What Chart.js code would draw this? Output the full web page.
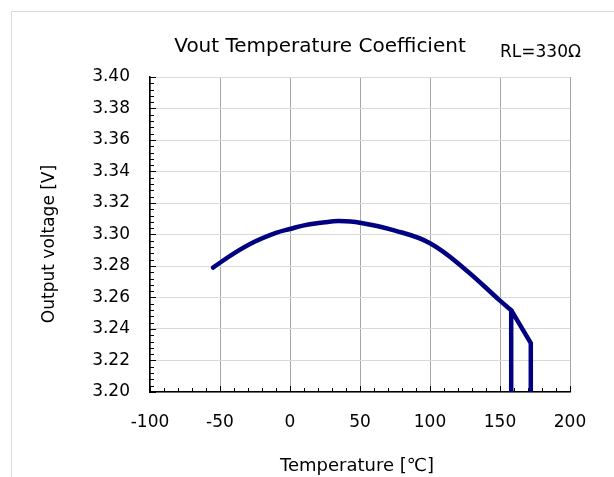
<!DOCTYPE html>
<html>
<head>
<meta charset="utf-8">
<script src="https://cdn.jsdelivr.net/npm/chart.js@4"></script>
<style>
  html, body { margin: 0; padding: 0; background: #fff; }
  #wrap { width: 614px; height: 477px; }
</style>
</head>
<body>
<div id="wrap"><canvas id="chart" width="614" height="477"></canvas></div>
<script>
// values
const temps = [-55, -40, -25, -10, 0, 10, 25, 35, 50, 75, 100, 125, 150, 158];
const vout = [3.279, 3.288, 3.2955, 3.301, 3.3035, 3.3058, 3.3078, 3.3085, 3.3075, 3.3025, 3.2945, 3.278, 3.258, 3.252];
// thermal shutdown / recovery path
const shutTemps = [158, 172, 172, 158, 158];
const shutVout = [3.252, 3.231, 3.0, 3.0, 3.252];

const xTicks = [-100, -50, 0, 50, 100, 150, 200];
const yTicks = [3.2, 3.22, 3.24, 3.26, 3.28, 3.3, 3.32, 3.34, 3.36, 3.38, 3.4];

const FONT = "'DejaVu Sans', Verdana, sans-serif";
const NAVY = "#000080";

const toPoints = (xs, ys) => xs.map((x, i) => ({ x: x, y: ys[i] }));

// minor ticks (inside the plot) + frame + text
const extras = {
  id: "extras",
  beforeDraw(chart) {
    const c = chart.ctx;
    c.save();
    c.strokeStyle = "#d9d9d9";
    c.lineWidth = 1;
    c.strokeRect(11.5, 11.5, 800, 800);
    c.restore();
  },
  afterDraw(chart) {
    const c = chart.ctx;
    const xs = chart.scales.x, ys = chart.scales.y;
    const a = chart.chartArea;
    c.save();
    c.strokeStyle = "#000";
    c.lineWidth = 1;
    c.beginPath();
    for (let v = -100; v <= 200; v += 10) {
      const px = Math.round(xs.getPixelForValue(v)) + 0.5;
      const len = v % 50 === 0 ? 6 : 4;
      c.moveTo(px, a.bottom);
      c.lineTo(px, a.bottom - len);
    }
    for (let i = 0; i <= 50; i++) {
      const v = 3.2 + i * 0.004;
      const py = Math.round(ys.getPixelForValue(v)) + 0.5;
      const len = i % 5 === 0 ? 6 : 4;
      c.moveTo(a.left, py);
      c.lineTo(a.left + len, py);
    }
    c.stroke();

    c.fillStyle = "#000";
    c.textAlign = "center";
    c.textBaseline = "alphabetic";
    c.font = "20px " + FONT;
    c.fillText("Vout Temperature Coefficient", 320, 52);
    c.font = "17px " + FONT;
    c.textAlign = "left";
    c.fillText("RL=330\u03A9", 500, 57);
    c.textAlign = "center";
    c.font = "18px " + FONT;
    c.fillText("Temperature [\u2103]", 357, 471);
    c.font = "17px " + FONT;
    c.translate(54, 244);
    c.rotate(-Math.PI / 2);
    c.fillText("Output voltage [V]", 0, 0);
    c.restore();
  }
};

new Chart(document.getElementById("chart").getContext("2d"), {
  type: "scatter",
  data: {
    datasets: [
      {
        label: "Vout",
        data: toPoints(temps, vout),
        showLine: true,
        borderColor: NAVY,
        borderWidth: 4.5,
        pointRadius: 0,
        tension: 0.4,
        borderCapStyle: "round",
        borderJoinStyle: "round",
      },
      {
        label: "shutdown",
        data: toPoints(shutTemps, shutVout),
        showLine: true,
        borderColor: NAVY,
        borderWidth: 4.5,
        pointRadius: 0,
        tension: 0,
        borderJoinStyle: "round",
      },
    ],
  },
  options: {
    responsive: false,
    animation: false,
    layout: { padding: { left: 0, top: 77, right: 44, bottom: 0 } },
    plugins: {
      legend: { display: false },
      tooltip: { enabled: false },
    },
    scales: {
      x: {
        type: "linear",
        min: -100,
        max: 200,
        afterBuildTicks: (s) => { s.ticks = xTicks.map((v) => ({ value: v })); },
        afterFit: (s) => { s.height = 85; },
        ticks: { color: "#000", font: { family: FONT, size: 17 }, padding: 20, maxRotation: 0 },
        grid: { color: "#a6a6a6", drawTicks: false },
        border: { color: "#000", width: 1.5 },
      },
      y: {
        min: 3.2,
        max: 3.4,
        afterBuildTicks: (s) => { s.ticks = yTicks.map((v) => ({ value: v })); },
        afterFit: (s) => { s.width = 150; },
        ticks: {
          color: "#000",
          font: { family: FONT, size: 17 },
          padding: 20,
          callback: (v) => Number(v).toFixed(2),
        },
        grid: { color: "#d9d9d9", drawTicks: false },
        border: { color: "#000", width: 1.5 },
      },
    },
  },
  plugins: [extras],
});
</script>
</body>
</html>
